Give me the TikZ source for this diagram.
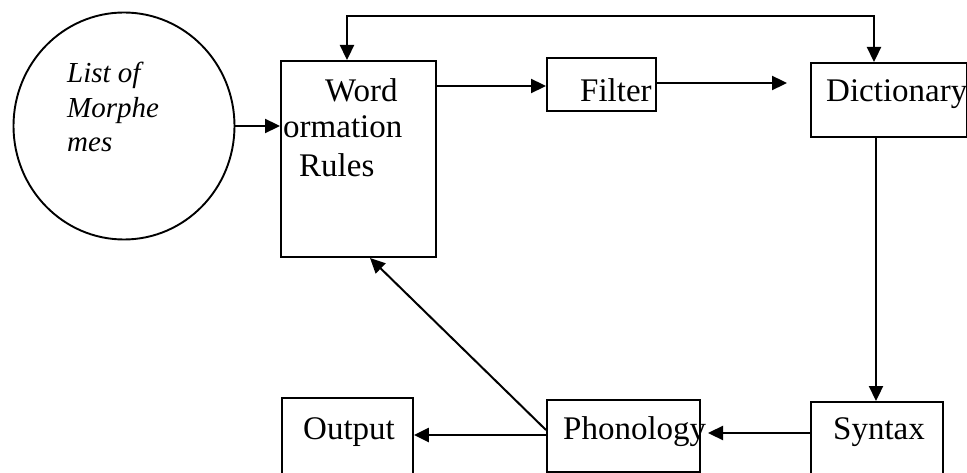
\documentclass[tikz,border=0pt]{standalone}
\usepackage{fontspec}
\setmainfont{Liberation Serif}
\usetikzlibrary{arrows.meta,shapes.geometric}
\begin{document}
\begin{tikzpicture}[x=1pt,y=-1pt,
  boxshape/.style={draw,line width=1.9pt,rectangle,inner sep=0pt,anchor=north west},
  txt/.style={inner sep=0pt,anchor=base west,font=\fontsize{33}{40}\selectfont},
  itxt/.style={inner sep=0pt,anchor=base west,font=\fontsize{29}{34}\selectfont\itshape},
  arr/.style={line width=2.3pt,-{Triangle[length=15pt,width=14pt]}}]
\clip (0,0) rectangle (967,473);
\fill[white] (0,0) rectangle (967,473);
% circle
\node[draw,line width=1.9pt,ellipse,minimum width=221pt,minimum height=227pt,inner sep=0pt] (morph) at (124,126) {};
\node[itxt] (m1) at (67,83) {List of};
\node[itxt] (m2) at (67,118) {Morphe};
\node[itxt] (m3) at (67,152) {mes};
% word formation box
\node[boxshape,minimum width=155pt,minimum height=196pt] (word) at (280,60) {};
\node[txt] (w1) at (325,102) {Word};
\node[txt] (w2) at (283,138) {ormation};
\node[txt] (w3) at (299,177) {Rules};
% filter
\node[boxshape,minimum width=109pt,minimum height=53pt] (filter) at (546,57) {};
\node[txt] (ft) at (580,102) {Filter};
% dictionary
\node[boxshape,minimum width=156pt,minimum height=74pt] (dict) at (810,62) {};
\node[txt] (dt) at (826,102) {Dictionary};
% syntax
\node[boxshape,minimum width=132pt,minimum height=90pt] (syn) at (810,401) {};
\node[txt] (st) at (833,439) {Syntax};
% phonology
\node[boxshape,minimum width=153pt,minimum height=72pt] (phon) at (546,399) {};
\node[txt] (pt) at (563,439) {Phonology};
% output
\node[boxshape,minimum width=131pt,minimum height=90pt] (out) at (281,397) {};
\node[txt] (ot) at (303,439) {Output};
% free ends and bends
\coordinate (fend) at (787,83);
\coordinate (pend) at (708,433);
\coordinate (topl) at (347,16);
\coordinate (topr) at (874,16);
\coordinate (wtop) at (347,60);
\coordinate (dtop) at (874,62);
% connectors
\draw[arr] (morph.east) -- (word.west |- morph.east);
\draw[arr] (word.east |- 0,86) -- (filter.west |- 0,86);
\draw[arr] (filter.east |- fend) -- (fend);
\draw[line width=2.3pt,{Triangle[length=15pt,width=14pt]}-{Triangle[length=15pt,width=14pt]}] (wtop) -- (topl) -- (topr) -- (dtop);
\draw[arr] (dict.south -| 876,0) -- (syn.north -| 876,0);
\draw[arr] (syn.west |- pend) -- (pend);
\draw[arr] (phon.west |- 0,435) -- (out.east |- 0,435);
\draw[line width=2pt,-{Triangle[length=15pt,width=14pt]}] (phon.west |- 0,430) -- (370,258);
\end{tikzpicture}
\end{document}
